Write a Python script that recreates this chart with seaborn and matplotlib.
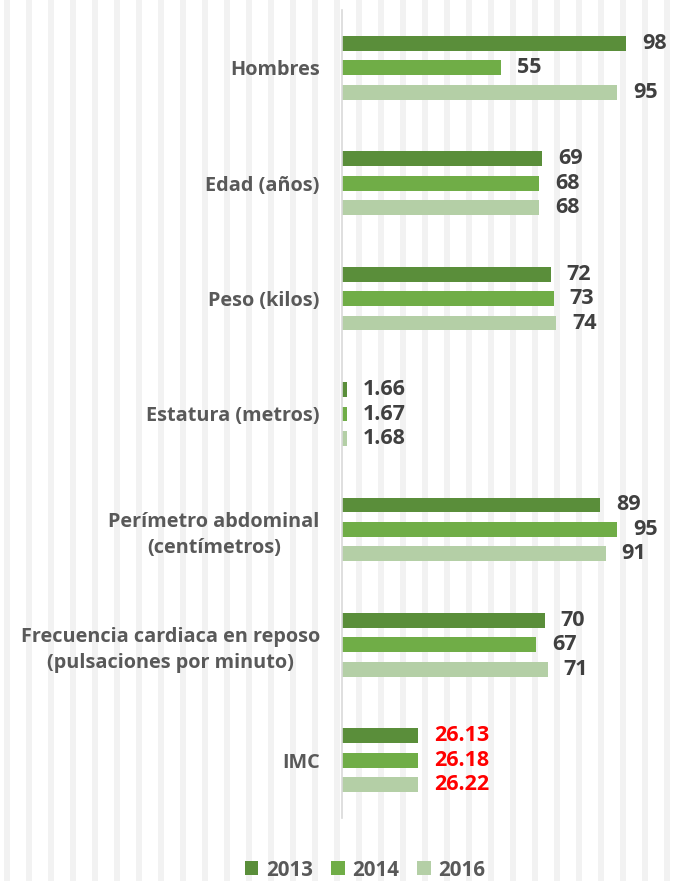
import numpy as np
import pandas as pd
import matplotlib
matplotlib.use("Agg")
import matplotlib.pyplot as plt
import seaborn as sns

categories = ["Hombres", "Edad (años)", "Peso (kilos)", "Estatura (metros)",
              "Perímetro abdominal\n(centímetros)",
              "Frecuencia cardiaca en reposo\n(pulsaciones por minuto)", "IMC"]
years = ["2013", "2014", "2016"]
values_2013 = [98, 69, 72, 1.66, 89, 70, 26.13]
values_2014 = [55, 68, 73, 1.67, 95, 67, 26.18]
values_2016 = [95, 68, 74, 1.68, 91, 71, 26.22]
colors = ["#5A8E3A", "#70AD47", "#B4CFA6"]
red_category = "IMC"

sns.set_theme(style="white")
plt.rcParams["font.family"] = ["Open Sans", "DejaVu Sans"]
plt.rcParams["font.weight"] = "bold"

rows = []
for yr, vals in zip(years, [values_2013, values_2014, values_2016]):
    for c, v in zip(categories, vals):
        rows.append({"cat": c, "year": yr, "val": v})
df = pd.DataFrame(rows)

W, H = 679, 881
fig = plt.figure(figsize=(W / 100, H / 100), dpi=100)
fig.patch.set_facecolor("white")

# background stripe pattern
bg = fig.add_axes([0, 0, 1, 1], zorder=-10)
bg.set_xlim(0, W)
bg.set_ylim(0, H)
bg.axis("off")
for x0 in np.arange(4, W, 22):
    bg.axvspan(x0, x0 + 6, color="#F2F2F2", lw=0)

ax = fig.add_axes([342 / W, 1 - 818 / H, 289.8 / W, 808 / H])
ax.set_facecolor("none")
sns.barplot(data=df, y="cat", x="val", hue="year", orient="h",
            palette=colors, order=categories, hue_order=years,
            width=0.635, gap=0.387, ax=ax, legend=True, saturation=1,
            edgecolor="none", linewidth=0)
ax.set_xlim(0, 100)
ax.set_ylim(6.5, -0.5)
ax.set_xlabel("")
ax.set_ylabel("")
ax.set_xticks([])
for s in ["top", "right", "bottom"]:
    ax.spines[s].set_visible(False)
ax.spines["left"].set_color("#D9D9D9")
ax.spines["left"].set_linewidth(1.2)
ax.tick_params(axis="y", length=0, pad=16, labelsize=14.3, labelcolor="#595959")
for t in ax.get_yticklabels():
    t.set_fontweight("bold")
    t.set_multialignment("center")
    t.set_linespacing(1.4)

def fmt(v):
    return f"{int(v)}" if float(v).is_integer() else f"{v:.2f}"

for cont, vals in zip(ax.containers, [values_2013, values_2014, values_2016]):
    texts = ax.bar_label(cont, labels=[fmt(v) for v in vals], padding=11.5,
                         fontsize=15.5, fontweight="bold", color="#404040")
    for t, c in zip(texts, categories):
        if c == red_category:
            t.set_color("#FF0000")

handles, labels = ax.get_legend_handles_labels()
ax.get_legend().remove()
leg = fig.legend(handles, labels, loc="center", bbox_to_anchor=(365 / W, 1 - 870 / H),
                 ncol=3, frameon=False, fontsize=14.8, handlelength=0.66,
                 handleheight=0.66, handletextpad=0.35, columnspacing=0.9,
                 borderpad=0)
for t in leg.get_texts():
    t.set_color("#595959")
    t.set_fontweight("bold")

fig.savefig("out.png", dpi=100, facecolor="white")
